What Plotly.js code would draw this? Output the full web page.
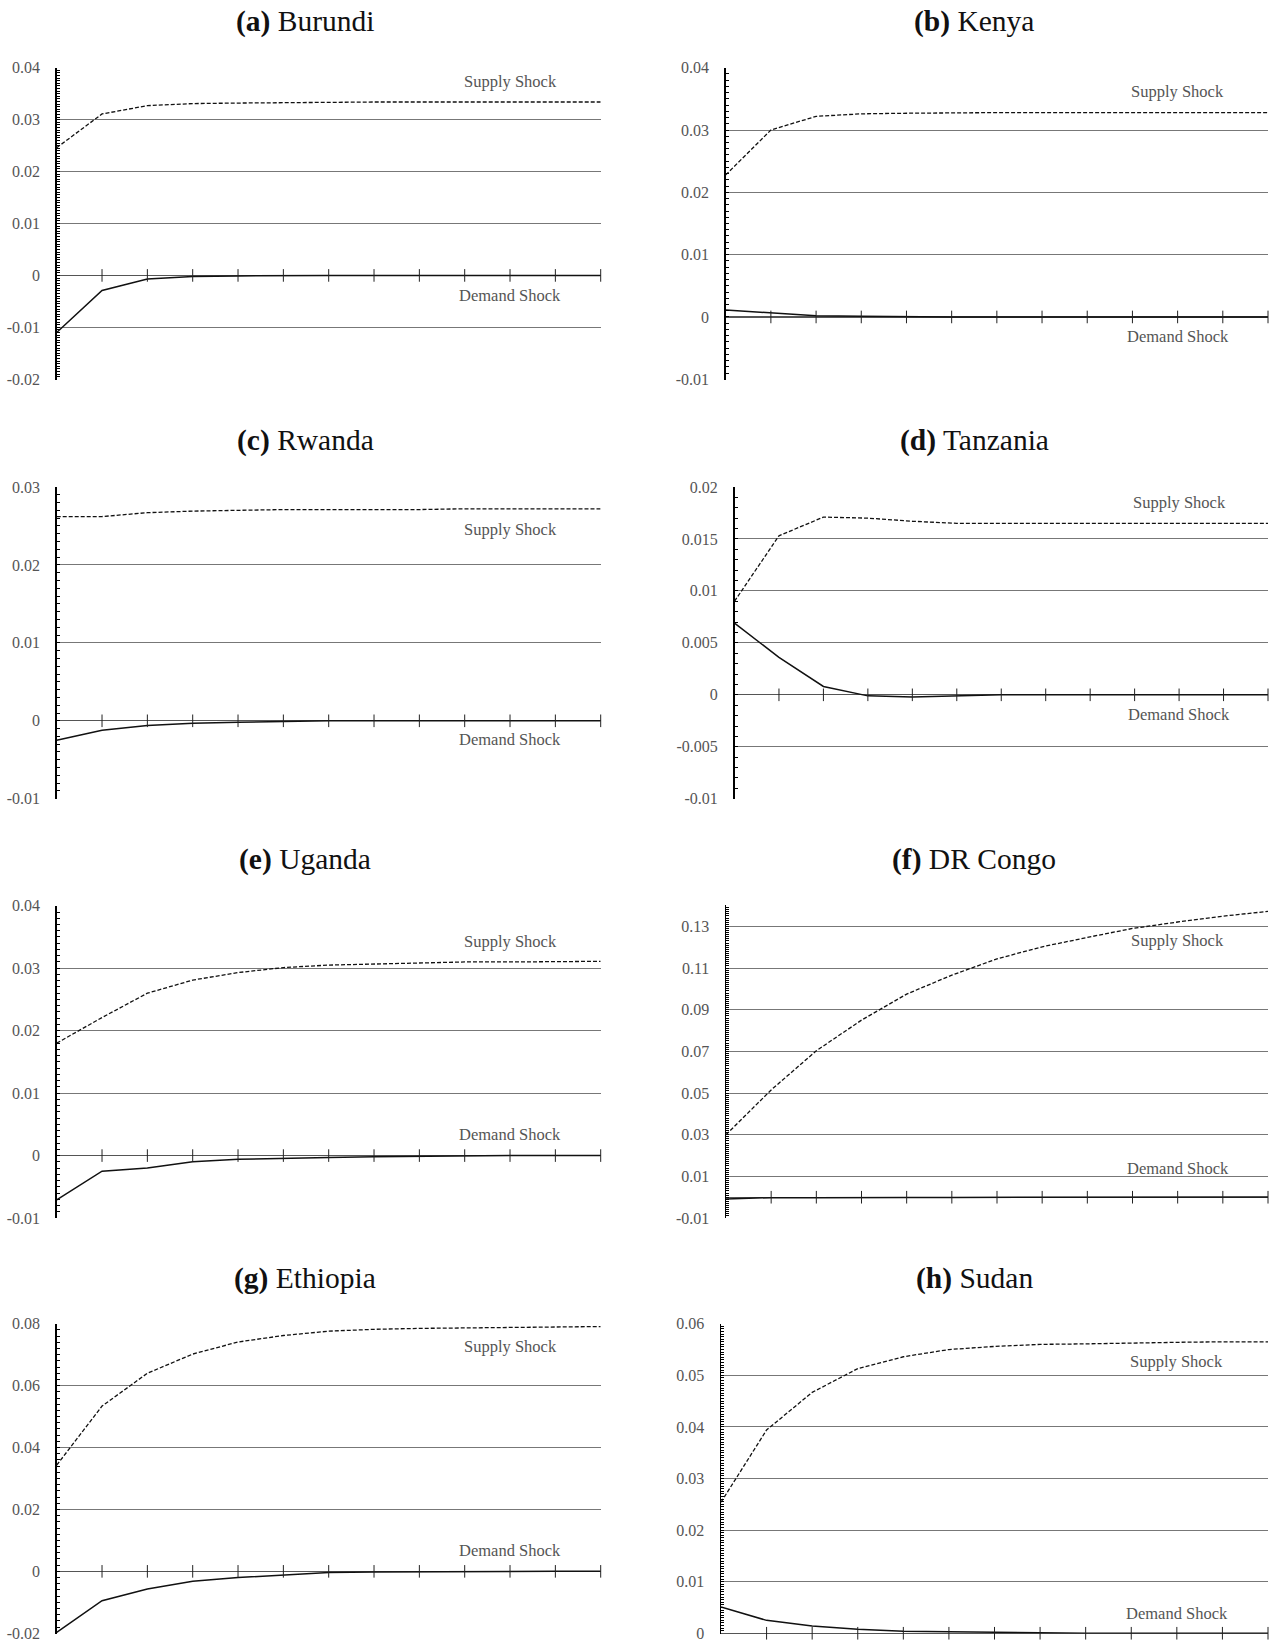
<!DOCTYPE html>
<html>
<head>
<meta charset="utf-8">
<script src="https://cdn.plot.ly/plotly-3.0.1.min.js"></script>
<style>
  html, body { margin: 0; padding: 0; background: #fff; }
  #chart { width: 1276px; height: 1641px; }
</style>
</head>
<body>
<div id="chart"></div>
<script>
// Impulse responses: periods 0..12 after the shock
const periods = [0, 1, 2, 3, 4, 5, 6, 7, 8, 9, 10, 11, 12];
const tickPeriods = [1, 2, 3, 4, 5, 6, 7, 8, 9, 10, 11, 12];

const countries = ["Burundi", "Kenya", "Rwanda", "Tanzania", "Uganda", "DR Congo", "Ethiopia", "Sudan"];
const panelLetters = ["a", "b", "c", "d", "e", "f", "g", "h"];

const burundiSupply = [0.0246, 0.0311, 0.0327, 0.0331, 0.0332, 0.0333, 0.0334, 0.0334, 0.0334, 0.0334, 0.0334, 0.0334, 0.0334];
const burundiDemand = [-0.0110, -0.0029, -0.0007, -0.0002, -0.0001, 0.0000, 0.0000, 0.0000, 0.0000, 0.0000, 0.0000, 0.0000, 0.0000];

const kenyaSupply = [0.0228, 0.0300, 0.0322, 0.0326, 0.0327, 0.0328, 0.0328, 0.0328, 0.0328, 0.0328, 0.0328, 0.0328, 0.0328];
const kenyaDemand = [0.0011, 0.0006, 0.0002, 0.0001, 0.0000, 0.0000, 0.0000, 0.0000, 0.0000, 0.0000, 0.0000, 0.0000, 0.0000];

const rwandaSupply = [0.0262, 0.0262, 0.0267, 0.0269, 0.0270, 0.0271, 0.0271, 0.0271, 0.0271, 0.0272, 0.0272, 0.0272, 0.0272];
const rwandaDemand = [-0.0025, -0.0012, -0.0006, -0.0003, -0.0002, -0.0001, 0.0000, 0.0000, 0.0000, 0.0000, 0.0000, 0.0000, 0.0000];

const tanzaniaSupply = [0.0090, 0.0153, 0.0171, 0.0170, 0.0167, 0.0165, 0.0165, 0.0165, 0.0165, 0.0165, 0.0165, 0.0165, 0.0165];
const tanzaniaDemand = [0.0069, 0.0036, 0.0008, -0.0001, -0.0002, -0.0001, 0.0000, 0.0000, 0.0000, 0.0000, 0.0000, 0.0000, 0.0000];

const ugandaSupply = [0.0180, 0.0221, 0.0260, 0.0281, 0.0293, 0.0301, 0.0305, 0.0307, 0.0309, 0.0310, 0.0310, 0.0311, 0.0311];
const ugandaDemand = [-0.0071, -0.0025, -0.0020, -0.0010, -0.0006, -0.0004, -0.0003, -0.0002, -0.0001, 0.0000, 0.0000, 0.0000, 0.0000];

const congoSupply = [0.0300, 0.0515, 0.0703, 0.0850, 0.0975, 0.1066, 0.1144, 0.1202, 0.1247, 0.1290, 0.1321, 0.1349, 0.1372];
const congoDemand = [-0.0008, -0.0002, -0.0003, -0.0001, -0.0001, -0.0001, -0.0001, -0.0001, -0.0001, 0.0001, 0.0001, 0.0001, 0.0001];

const ethiopiaSupply = [0.0343, 0.0534, 0.0640, 0.0702, 0.0741, 0.0762, 0.0776, 0.0782, 0.0785, 0.0787, 0.0788, 0.0789, 0.0791];
const ethiopiaDemand = [-0.0197, -0.0095, -0.0057, -0.0032, -0.0020, -0.0011, -0.0004, -0.0002, -0.0001, 0.0000, 0.0000, 0.0000, 0.0000];

const sudanSupply = [0.0254, 0.0394, 0.0467, 0.0513, 0.0536, 0.0550, 0.0556, 0.0560, 0.0561, 0.0563, 0.0564, 0.0565, 0.0565];
const sudanDemand = [0.0051, 0.0025, 0.0014, 0.0008, 0.0004, 0.0003, 0.0001, 0.0000, 0.0000, 0.0000, 0.0000, 0.0000, 0.0000];

// Y tick values and their printed labels, per panel
const burundiTicks = [-0.02, -0.01, 0, 0.01, 0.02, 0.03, 0.04];
const burundiLabels = ["-0.02", "-0.01", "0", "0.01", "0.02", "0.03", "0.04"];
const kenyaTicks = [-0.01, 0, 0.01, 0.02, 0.03, 0.04];
const kenyaLabels = ["-0.01", "0", "0.01", "0.02", "0.03", "0.04"];
const rwandaTicks = [-0.01, 0, 0.01, 0.02, 0.03];
const rwandaLabels = ["-0.01", "0", "0.01", "0.02", "0.03"];
const tanzaniaTicks = [-0.01, -0.005, 0, 0.005, 0.01, 0.015, 0.02];
const tanzaniaLabels = ["-0.01", "-0.005", "0", "0.005", "0.01", "0.015", "0.02"];
const ugandaTicks = [-0.01, 0, 0.01, 0.02, 0.03, 0.04];
const ugandaLabels = ["-0.01", "0", "0.01", "0.02", "0.03", "0.04"];
const congoTicks = [-0.01, 0.01, 0.03, 0.05, 0.07, 0.09, 0.11, 0.13];
const congoLabels = ["-0.01", "0.01", "0.03", "0.05", "0.07", "0.09", "0.11", "0.13"];
const ethiopiaTicks = [-0.02, 0, 0.02, 0.04, 0.06, 0.08];
const ethiopiaLabels = ["-0.02", "0", "0.02", "0.04", "0.06", "0.08"];
const sudanTicks = [0, 0.01, 0.02, 0.03, 0.04, 0.05, 0.06];
const sudanLabels = ["0", "0.01", "0.02", "0.03", "0.04", "0.05", "0.06"];

const supplySeries = [burundiSupply, kenyaSupply, rwandaSupply, tanzaniaSupply, ugandaSupply, congoSupply, ethiopiaSupply, sudanSupply];
const demandSeries = [burundiDemand, kenyaDemand, rwandaDemand, tanzaniaDemand, ugandaDemand, congoDemand, ethiopiaDemand, sudanDemand];
const tickSets = [burundiTicks, kenyaTicks, rwandaTicks, tanzaniaTicks, ugandaTicks, congoTicks, ethiopiaTicks, sudanTicks];
const labelSets = [burundiLabels, kenyaLabels, rwandaLabels, tanzaniaLabels, ugandaLabels, congoLabels, ethiopiaLabels, sudanLabels];

// Axis setup per panel: y range, minor tick step, label anchors (data units)
const panelSetup = [
  { range: [-0.02, 0.04],  minor: 0.0005, supplyAt: 0.0373, demandAt: -0.0038 },
  { range: [-0.01, 0.04],  minor: 0.001,  supplyAt: 0.0362, demandAt: -0.0032 },
  { range: [-0.01, 0.03],  minor: 0.001,  supplyAt: 0.0246, demandAt: -0.00245 },
  { range: [-0.01, 0.02],  minor: 0.001,  supplyAt: 0.0185, demandAt: -0.0019 },
  { range: [-0.01, 0.04],  minor: 0.001,  supplyAt: 0.0343, demandAt: 0.00335 },
  { range: [-0.01, 0.14],  minor: 0.001,  supplyAt: 0.1234, demandAt: 0.014 },
  { range: [-0.02, 0.08],  minor: 0.002,  supplyAt: 0.0727, demandAt: 0.0067 },
  { range: [0, 0.06],      minor: 0.0005, supplyAt: 0.0526, demandAt: 0.0038 }
];

// Panel boxes in pixels: [left, right, top, bottom]
const W = 1276, H = 1641;
const boxes = [
  [56.7, 600.7, 67.5, 379.5],
  [725.7, 1268, 67.5, 379.5],
  [56.7, 600.7, 486.7, 799],
  [734.5, 1268, 486.7, 799],
  [56.7, 600.7, 905.5, 1218.3],
  [726.0, 1268, 905.3, 1218.3],
  [56.7, 600.7, 1323.5, 1633.5],
  [721.0, 1268, 1323.5, 1633.5]
];
const titleCenters = [305, 974];
const titleRows = [21, 440, 859.5, 1278];

const serif = "Liberation Serif, Times New Roman, serif";
const traces = [];
const layout = {
  width: W, height: H,
  margin: { l: 0, r: 0, t: 0, b: 0 },
  paper_bgcolor: "#fff", plot_bgcolor: "#fff",
  showlegend: false,
  annotations: []
};

countries.forEach((name, i) => {
  const s = i === 0 ? "" : String(i + 1);
  const xa = "x" + s, ya = "y" + s;
  const [l, r, t, b] = boxes[i];
  const cfg = panelSetup[i];
  const pad = (cfg.range[1] - cfg.range[0]) * 0.0008;

  traces.push({
    x: periods, y: supplySeries[i], xaxis: xa, yaxis: ya,
    type: "scatter", mode: "lines", hoverinfo: "skip",
    line: { color: "#111", width: 1.3, dash: "4px,2px" }
  });
  traces.push({
    x: periods, y: demandSeries[i], xaxis: xa, yaxis: ya,
    type: "scatter", mode: "lines", hoverinfo: "skip",
    line: { color: "#111", width: 1.5 }
  });
  // period tick marks crossing the zero axis
  traces.push({
    x: tickPeriods, y: tickPeriods.map(() => 0), xaxis: xa, yaxis: ya,
    type: "scatter", mode: "markers", hoverinfo: "skip", cliponaxis: false,
    marker: { symbol: "line-ns-open", size: 9, color: "#222", line: { width: 1, color: "#222" } }
  });

  layout["xaxis" + s] = {
    domain: [l / W, r / W], anchor: ya, range: [0, 12],
    showgrid: false, zeroline: false, showline: false,
    showticklabels: false, ticks: "", fixedrange: true
  };
  layout["yaxis" + s] = {
    domain: [1 - b / H, 1 - t / H], anchor: xa,
    range: [cfg.range[0] - pad, cfg.range[1] + pad],
    tickmode: "array", tickvals: tickSets[i], ticktext: labelSets[i],
    ticks: "inside", ticklen: 3, tickwidth: 1, tickcolor: "#000",
    ticklabelstandoff: 12, ticklabeloverflow: "allow",
    tickfont: { family: serif, size: 16, color: "#555" },
    minor: { tickmode: "linear", tick0: 0, dtick: cfg.minor, ticks: "inside", ticklen: 3, tickwidth: 1, tickcolor: "#000", showgrid: false },
    showgrid: true, gridcolor: "#777", gridwidth: 1,
    zeroline: true, zerolinecolor: "#555", zerolinewidth: 1.2,
    showline: true, linecolor: "#000", linewidth: 1.5,
    fixedrange: true
  };

  layout.annotations.push({
    xref: "paper", yref: "paper",
    x: titleCenters[i % 2] / W, y: 1 - titleRows[Math.floor(i / 2)] / H,
    xanchor: "center", yanchor: "middle", showarrow: false,
    text: "<b>(" + panelLetters[i] + ")</b> " + name,
    font: { family: serif, size: 29.5, color: "#111" }
  });
  layout.annotations.push({
    xref: xa, yref: ya, x: 10, y: cfg.supplyAt,
    xanchor: "center", yanchor: "middle", showarrow: false,
    text: "Supply Shock", font: { family: serif, size: 16.5, color: "#555" }
  });
  layout.annotations.push({
    xref: xa, yref: ya, x: 10, y: cfg.demandAt,
    xanchor: "center", yanchor: "middle", showarrow: false,
    text: "Demand Shock", font: { family: serif, size: 16.5, color: "#555" }
  });
});

Plotly.newPlot("chart", traces, layout, { staticPlot: true, displayModeBar: false });
</script>
</body>
</html>
